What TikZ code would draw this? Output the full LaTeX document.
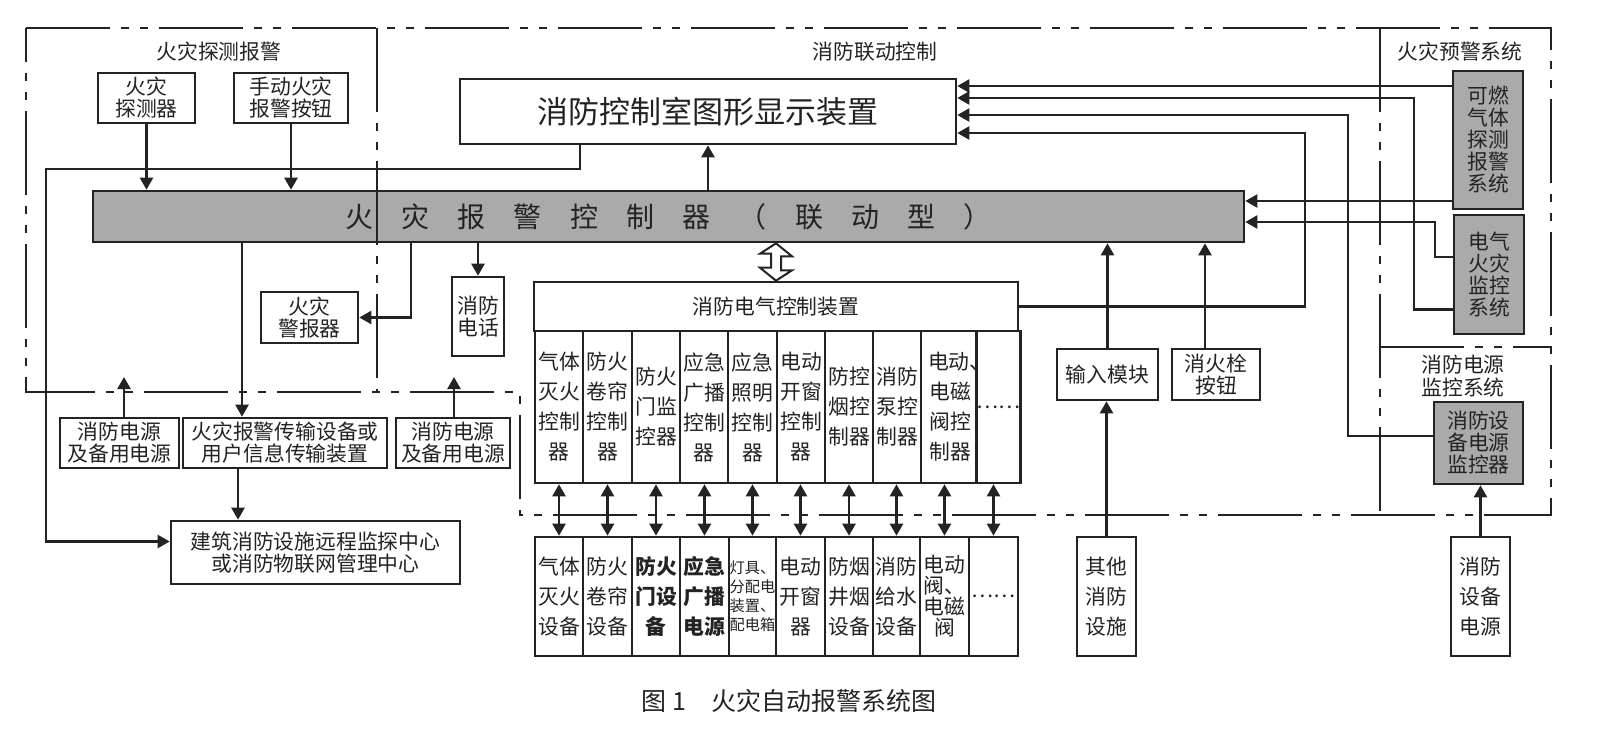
\documentclass[tikz,border=0pt]{standalone}
\usepackage{fontspec}
\setmainfont{Noto Sans CJK SC}
\usetikzlibrary{arrows.meta}
\definecolor{panelgray}{RGB}{170,170,170}
\definecolor{inkgray}{RGB}{35,35,35}
\newcommand{\boxfont}{\fontsize{10.4}{11}\selectfont}
\newcommand{\colfont}{\fontsize{10.4}{15}\selectfont}
\newcommand{\smallcolfont}{\fontsize{7.6}{9.5}\selectfont}

\begin{document}
\begin{tikzpicture}[x=0.5pt, y=-0.5pt,
    box/.style={draw=inkgray, line width=1.3pt, fill=white, inner sep=0pt, align=center, font=\boxfont, text=inkgray},
    graybox/.style={box, fill=panelgray},
    col/.style={box, font=\colfont},
    colbold/.style={box, font=\colfont\bfseries},
    colsmall/.style={box, font=\smallcolfont},
    colmid/.style={box, font=\fontsize{10.4}{10.5}\selectfont},
    regionlbl/.style={font=\boxfont, align=center, text=inkgray, inner sep=0pt},
    arr/.style={-{Triangle[length=6pt,width=6.5pt]}, line width=1.2pt, draw=inkgray},
    dblarr/.style={{Triangle[length=6pt,width=6.5pt]}-{Triangle[length=6pt,width=6.5pt]}, line width=1.2pt, draw=inkgray},
    zoneline/.style={line width=1.2pt, draw=inkgray, dash pattern=on 42pt off 5.5pt on 4pt off 5.5pt on 4pt off 5.5pt},
    hollow/.style={line width=1pt, draw=inkgray, fill=white, line join=miter}
]
\useasboundingbox (0,0) rectangle (1608,736);

% zone titles
\node[regionlbl] (lblDetect) at (219,52) {火灾探测报警};
\node[regionlbl] (lblLink) at (875,52) {消防联动控制};
\node[regionlbl] (lblWarn) at (1460,52) {火灾预警系统};
\node[regionlbl, font=\fontsize{10.4}{11.5}\selectfont] (lblPower) at (1463,376) {消防电源\\监控系统};

% detection and main controller
\node[box, minimum width=48.5pt, minimum height=25pt] (det) at (146.5,98) {火灾\\探测器};
\node[box, minimum width=57pt, minimum height=25pt] (btn) at (291,98) {手动火灾\\报警按钮};
\node[box, minimum width=248pt, minimum height=32.5pt, font=\fontsize{15.5}{16}\selectfont] (disp) at (708,111.5) {消防控制室图形显示装置};
\node[graybox, minimum width=575.5pt, minimum height=25.5pt, font=\fontsize{14}{14}\selectfont] (ctrl) at (668.5,216.5) {\makebox[323.5pt][s]{火 灾 报 警 控 制 器 （ 联 动 型 ）}};

% left column
\node[box, minimum width=48.5pt, minimum height=25.5pt] (alarm) at (309.5,317.5) {火灾\\警报器};
\node[box, minimum width=26pt, minimum height=39.5pt] (tel) at (478,316.5) {消防\\电话};
\node[box, minimum width=59.5pt, minimum height=25pt] (pwA) at (119.5,443) {消防电源\\及备用电源};
\node[box, minimum width=102pt, minimum height=25pt] (trans) at (285,443) {火灾报警传输设备或\\用户信息传输装置};
\node[box, minimum width=57pt, minimum height=25pt] (pwB) at (453,443) {消防电源\\及备用电源};
\node[box, minimum width=144.5pt, minimum height=31.5pt] (remote) at (315.5,552.5) {建筑消防设施远程监探中心\\或消防物联网管理中心};

% linkage control unit
\node[box, minimum width=242pt, minimum height=24.5pt] (elec) at (776,306.5) {消防电气控制装置};
\foreach \a/\b/\txt/\sty [count=\i] in {
  535/583/{气体\\灭火\\控制\\器}/col,
  583/632/{防火\\卷帘\\控制\\器}/col,
  632/680/{防火\\门监\\控器}/col,
  680/728/{应急\\广播\\控制\\器}/col,
  728/777/{应急\\照明\\控制\\器}/col,
  777/825/{电动\\开窗\\控制\\器}/col,
  825/873/{防控\\烟控\\制器}/col,
  873/921/{消防\\泵控\\制器}/col,
  921/979/{\makebox[2.5em][l]{\hspace{2pt}电动、}\\电磁\\阀控\\制器}/col,
  979/1018/{……}/col}
  \node[\sty, minimum width={(\b-\a)*0.5pt}, minimum height=76pt] (c\i) at ({(\a+\b)/2},407) {\txt};

% field devices
\foreach \a/\b/\txt/\sty [count=\i] in {
  535/583/{气体\\灭火\\设备}/col,
  583/632/{防火\\卷帘\\设备}/col,
  632/680/{防火\\门设\\备}/colbold,
  680/729/{应急\\广播\\电源}/colbold,
  729/776/{灯具、\\分配电\\装置、\\配电箱}/colsmall,
  776/825/{电动\\开窗\\器}/col,
  825/873/{防烟\\井烟\\设备}/col,
  873/920/{消防\\给水\\设备}/col,
  920/969/{电动\\阀、\\电磁\\阀}/colmid,
  969/1018/{……}/col}
  \node[\sty, minimum width={(\b-\a)*0.5pt}, minimum height=59.5pt] (d\i) at ({(\a+\b)/2},596.5) {\txt};

% right side
\node[box, minimum width=50.5pt, minimum height=25.5pt] (input) at (1107.5,374.5) {输入模块};
\node[box, minimum width=44pt, minimum height=25.5pt] (hyd) at (1216,374.5) {消火栓\\按钮};
\node[col, minimum width=29.5pt, minimum height=59.5pt] (other) at (1106.5,596.5) {其他\\消防\\设施};
\node[graybox, minimum width=35pt, minimum height=69pt] (gas) at (1488,140) {可燃\\气体\\探测\\报警\\系统};
\node[graybox, minimum width=35pt, minimum height=59.5pt] (efire) at (1489,274.5) {电气\\火灾\\监控\\系统};
\node[graybox, minimum width=44.5pt, minimum height=41pt] (pmon) at (1478.5,443) {消防设\\备电源\\监控器};
\node[col, minimum width=29.5pt, minimum height=59.5pt] (psrc) at (1480.5,596.5) {消防\\设备\\电源};

% caption
\node[font=\fontsize{12.5}{13}\selectfont, text=inkgray, inner sep=0pt] (caption) at (789,701) {图 1\quad 火灾自动报警系统图};

% helper points
\coordinate (tapAlarm) at (411,0);
\coordinate (tapTrans) at (242,0);
\coordinate (tapRemote) at (238,0);
\coordinate (tapHyd) at (1205,0);
\coordinate (loopTop) at (580,169);
\coordinate (loopLeft) at (46,169);
\coordinate (pwAup) at (124,377);
\coordinate (pwBup) at (454,377);
\coordinate (laneElec) at (1305,133);
\coordinate (lanePmon) at (1348,115);
\coordinate (laneFire) at (1414,98);
\coordinate (laneFireB) at (1435,222);
\coordinate (gasTop) at (0,86);
\coordinate (gasLow) at (0,201);

% connectors
\draw[arr] (det.south) -- (det.south |- ctrl.north);
\draw[arr] (btn.south) -- (btn.south |- ctrl.north);
\draw[arr] (ctrl.north -| disp.south) -- (disp.south);
\draw[arr] (disp.south -| loopTop) |- (loopLeft) |- ([yshift=5.5pt]remote.west);
\draw[arr] (ctrl.south -| tapTrans) -- (trans.north -| tapTrans);
\draw[arr] (trans.south -| tapRemote) -- (remote.north -| tapRemote);
\draw[arr] (ctrl.south -| tapAlarm) |- (alarm.east);
\draw[arr] (ctrl.south -| tel.north) -- (tel.north);
\draw[arr] (pwA.north -| pwAup) -- (pwAup);
\draw[arr] (pwB.north -| pwBup) -- (pwBup);
\draw[hollow] (ctrl.south -| elec.north) -- ++(16,13) -- ++(-11,0) -- ++(0,14) -- ++(11,0) -- (elec.north)
  -- ++(-16,-13) -- ++(11,0) -- ++(0,-14) -- ++(-11,0) -- cycle;
\foreach \i in {1,...,10}
  \draw[dblarr] (d\i.north |- c\i.south) -- (d\i.north);
\draw[arr] (input.north) -- (input.north |- ctrl.south);
\draw[arr] (hyd.north -| tapHyd) -- (ctrl.south -| tapHyd);
\draw[arr] (other.north) -- (other.north |- input.south);
\draw[arr] (elec.east) -| (laneElec) -- (laneElec -| disp.east);
\draw[arr] ([yshift=3.5pt]pmon.west) -| (lanePmon) -- (lanePmon -| disp.east);
\draw[arr] ([yshift=-17.5pt]efire.west) -| (laneFire) -- (laneFire -| disp.east);
\draw[arr] ([yshift=8.75pt]efire.west) -| (laneFireB) -- (laneFireB -| ctrl.east);
\draw[arr] (gas.west |- gasTop) -- (disp.east |- gasTop);
\draw[arr] (gas.west |- gasLow) -- (ctrl.east |- gasLow);
\draw[arr] (psrc.north) -- (psrc.north |- pmon.south);

% zone borders
\draw[zoneline] (26,28) -- (1551,28) -- (1551,515) -- (520,515) -- (520,392) -- (26,392) -- cycle;
\draw[zoneline] (377,28) -- (377,392);
\draw[zoneline] (1380,28) -- (1380,515);
\draw[zoneline] (1380,347) -- (1551,347);

\end{tikzpicture}
\end{document}
